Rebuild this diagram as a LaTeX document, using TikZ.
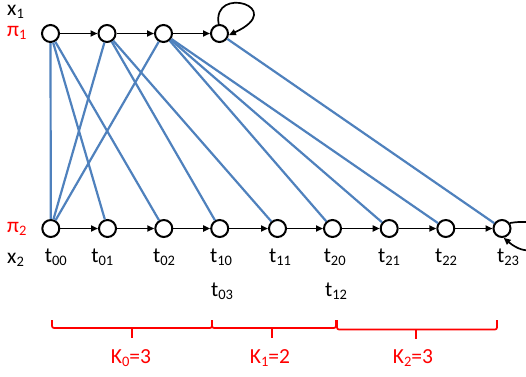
\documentclass[tikz,border=0pt]{standalone}
\usepackage{fontspec}
\setmainfont{Carlito}
\usetikzlibrary{arrows.meta}
\definecolor{edgeblue}{RGB}{79,129,189}
\definecolor{kred}{RGB}{255,0,0}
\newcommand\sbs[1]{\raisebox{-0.16em}{\fontsize{14.5}{14.5}\selectfont #1}}
\begin{document}
\begin{tikzpicture}[x=1pt,y=-1pt,
  state/.style={circle,draw=black,line width=2pt,minimum size=17pt,inner sep=0pt,fill=white},
  flow/.style={line width=1.7pt,-{Triangle[length=7pt,width=6pt]}},
  link/.style={draw=edgeblue,line width=2.2pt},
  lbl/.style={font=\fontsize{21.5}{25}\selectfont,inner sep=0pt,anchor=base},
  lblw/.style={lbl,anchor=base west},
  redtxt/.style={text=kred},
  bracepath/.style={draw=kred,line width=1.7pt,rounded corners=2pt}]
\useasboundingbox (0,0) rectangle (526,376);
\clip (0,0) rectangle (526,376);

% top chain
\node[state] (a1) at (50.5,33.5) {};
\node[state] (a2) at (107,33.5) {};
\node[state] (a3) at (163.5,33.5) {};
\node[state] (a4) at (219.5,33.5) {};
% bottom chain
\node[state] (b1) at (50.8,228.5) {};
\node[state] (b2) at (107.5,228.5) {};
\node[state] (b3) at (163.8,228.5) {};
\node[state] (b4) at (219.7,228.5) {};
\node[state] (b5) at (277.5,228.5) {};
\node[state] (b6) at (332.5,228.5) {};
\node[state] (b7) at (389.2,228.5) {};
\node[state] (b8) at (445.8,228.5) {};
\node[state] (b9) at (502,228.5) {};

% blue links
\draw[link] (a1) -- (b1);
\draw[link] (a1) -- (b2);
\draw[link] (a1) -- (b3);
\draw[link] (a2) -- (b1);
\draw[link] (a2) -- (b4);
\draw[link] (a2) -- (b5);
\draw[link] (a3) -- (b1);
\draw[link] (a3) -- (b6);
\draw[link] (a3) -- (b7);
\draw[link] (a3) -- (b8);
\draw[link] (a4) -- (b9);

% black arrows
\draw[flow] (a1) -- (a2);
\draw[flow] (a2) -- (a3);
\draw[flow] (a3) -- (a4);
\draw[flow] (b1) -- (b2);
\draw[flow] (b2) -- (b3);
\draw[flow] (b3) -- (b4);
\draw[flow] (b4) -- (b5);
\draw[flow] (b5) -- (b6);
\draw[flow] (b6) -- (b7);
\draw[flow] (b7) -- (b8);
\draw[flow] (b8) -- (b9);
% self loops
\draw[flow] (a4.95) .. controls +(100:40pt) and +(25:66pt) .. (a4.-10);
\draw[flow] (b9.35) .. controls +(10:58pt) and +(-40:52pt) .. (b9.-80);

% side labels
\node[lblw] (x1) at (7,15) {x\sbs{1}};
\node[lblw,redtxt] (p1) at (7,36) {π\sbs{1}};
\node[lblw,redtxt] (p2) at (7,232) {π\sbs{2}};
\node[lblw] (x2) at (7,263) {x\sbs{2}};

% t labels
\node[lbl] (t00) at (55.8,262.5) {t\sbs{00}};
\node[lbl] (t01) at (102.3,262.5) {t\sbs{01}};
\node[lbl] (t02) at (164,262.5) {t\sbs{02}};
\node[lbl] (t10) at (221,262.5) {t\sbs{10}};
\node[lbl] (t11) at (280,262.5) {t\sbs{11}};
\node[lbl] (t20) at (334.7,262.5) {t\sbs{20}};
\node[lbl] (t21) at (389,262.5) {t\sbs{21}};
\node[lbl] (t22) at (446,262.5) {t\sbs{22}};
\node[lbl] (t23) at (508,262.5) {t\sbs{23}};
\node[lbl] (t03) at (222,296) {t\sbs{03}};
\node[lbl] (t12) at (336,296) {t\sbs{12}};

% brackets
\draw[bracepath] (52,320) -- (52,328) -- (212,328) -- (212,320);
\draw[bracepath] (132,328) -- (132,338);
\draw[bracepath] (212,320) -- (212,328) -- (336,328) -- (336,320);
\draw[bracepath] (272,328) -- (272,338);
\draw[bracepath] (337,320) -- (337,329.5) -- (497,329.5) -- (497,320);
\draw[bracepath] (416,329.5) -- (416,339);

\node[lbl,redtxt] (k0) at (131,363) {K\sbs{0}=3};
\node[lbl,redtxt] (k1) at (270,363) {K\sbs{1}=2};
\node[lbl,redtxt] (k2) at (413,363) {K\sbs{2}=3};
\end{tikzpicture}
\end{document}
